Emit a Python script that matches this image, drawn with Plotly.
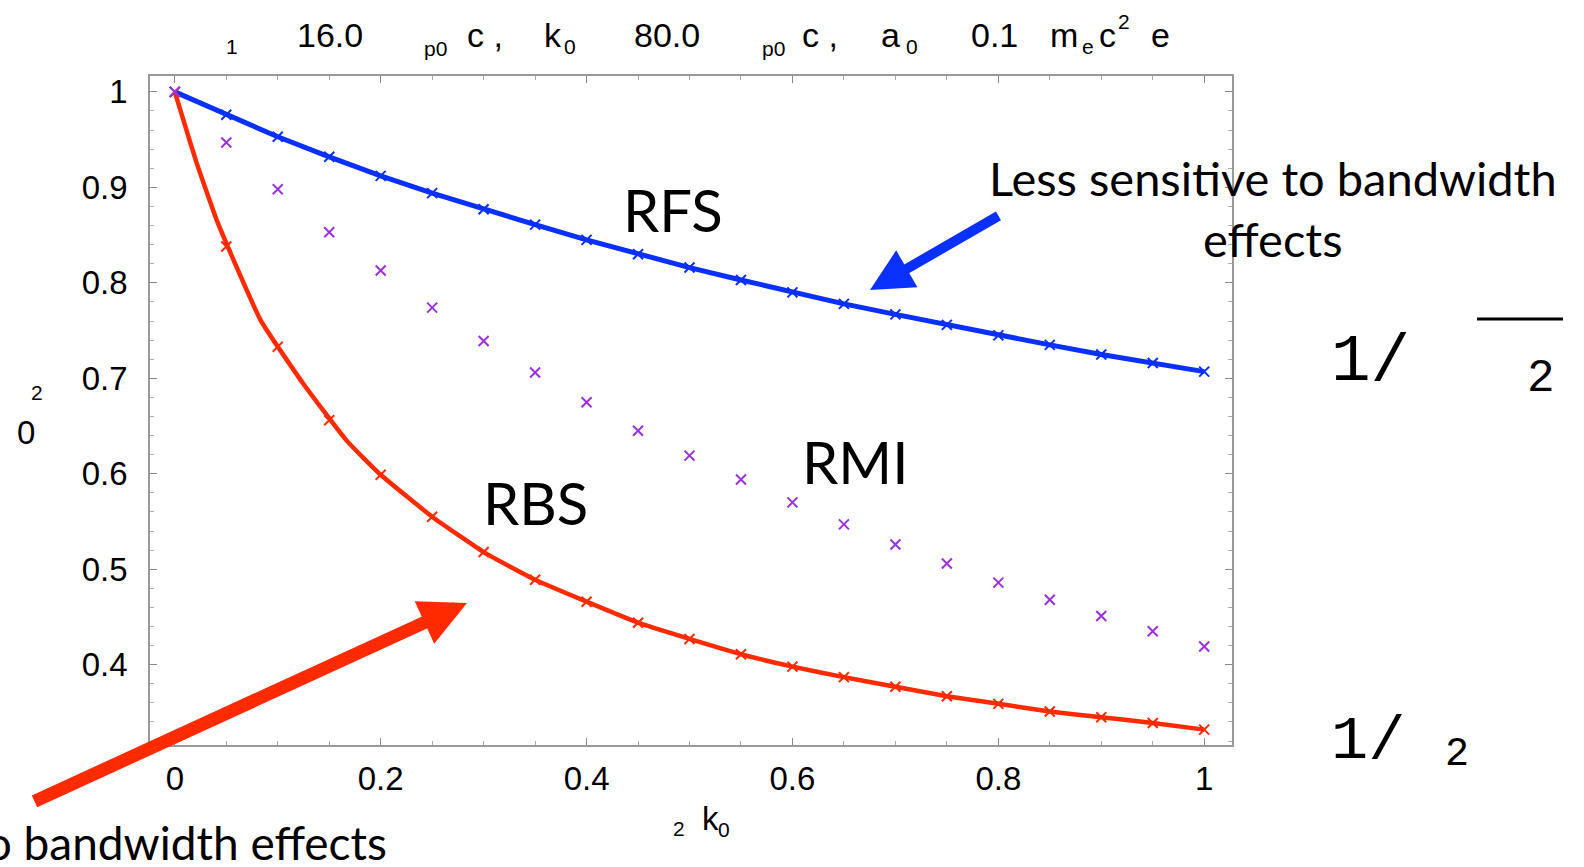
import plotly.graph_objects as go

# ---------------- data ----------------
x_pts = [0.0, 0.05, 0.10, 0.15, 0.20, 0.25, 0.30, 0.35, 0.40, 0.45, 0.50,
         0.55, 0.60, 0.65, 0.70, 0.75, 0.80, 0.85, 0.90, 0.95, 1.0]

rfs_vals = [1.000, 0.976, 0.953, 0.932, 0.912, 0.894, 0.877, 0.861, 0.845, 0.830, 0.816,
            0.803, 0.790, 0.778, 0.767, 0.756, 0.745, 0.735, 0.725, 0.716, 0.707]

rmi_vals = [1.000, 0.947, 0.898, 0.853, 0.813, 0.774, 0.739, 0.706, 0.675, 0.645, 0.619,
            0.594, 0.570, 0.547, 0.526, 0.506, 0.486, 0.468, 0.451, 0.435, 0.419]

rbs_vals = [1.000, 0.838, 0.733, 0.656, 0.599, 0.555, 0.518, 0.489, 0.466, 0.444, 0.427,
            0.411, 0.398, 0.387, 0.377, 0.367, 0.359, 0.351, 0.345, 0.339, 0.332]

rbs_line_x = [0.0, 0.0208, 0.0417, 0.0833, 0.125, 0.1667, 0.20, 0.25, 0.30, 0.35, 0.40,
              0.45, 0.50, 0.55, 0.60, 0.65, 0.70, 0.75, 0.80, 0.85, 0.90, 0.95, 1.0]
rbs_line_y = [1.000, 0.927, 0.863, 0.761, 0.694, 0.635, 0.599, 0.555, 0.518, 0.489, 0.466,
              0.444, 0.427, 0.411, 0.398, 0.387, 0.377, 0.367, 0.359, 0.351, 0.345, 0.339, 0.332]

x_ticks = [0, 0.2, 0.4, 0.6, 0.8, 1]
x_tick_labels = ["0", "0.2", "0.4", "0.6", "0.8", "1"]
y_ticks = [0.4, 0.5, 0.6, 0.7, 0.8, 0.9, 1.0]
y_tick_labels = ["0.4", "0.5", "0.6", "0.7", "0.8", "0.9", "1"]

BLUE = "#0A30FF"
RED = "#FF2A00"
PURPLE = "#9933DD"

# ---------------- layout geometry ----------------
W, H = 1584, 867
L, R, T, B = 150, 1232, 76, 745


def px(x):
    return (x - L) / (R - L)


def py(y):
    return (B - y) / (B - T)


fig = go.Figure()

fig.add_trace(go.Scatter(x=x_pts, y=rfs_vals, mode="lines+markers",
                         line=dict(color=BLUE, width=5),
                         marker=dict(symbol="x-thin", size=10, line=dict(color=BLUE, width=2)),
                         showlegend=False))
fig.add_trace(go.Scatter(x=rbs_line_x, y=rbs_line_y, mode="lines",
                         line=dict(color=RED, width=4.5, shape="spline", smoothing=0.4),
                         showlegend=False))
fig.add_trace(go.Scatter(x=x_pts, y=rbs_vals, mode="markers",
                         marker=dict(symbol="x-thin", size=10, line=dict(color=RED, width=2)),
                         showlegend=False))
fig.add_trace(go.Scatter(x=x_pts, y=rmi_vals, mode="markers",
                         marker=dict(symbol="x-thin", size=10, line=dict(color=PURPLE, width=2)),
                         showlegend=False))

ann = []


def txt(x, y, s, size, font="Liberation Sans", color="black", xanchor="center", yanchor="middle"):
    ann.append(dict(x=px(x), y=py(y), xref="paper", yref="paper", text=s, showarrow=False,
                    xanchor=xanchor, yanchor=yanchor,
                    font=dict(family=font, size=size, color=color)))


# title pieces
BIG, SUB = 34, 21
txt(232, 46, "1", SUB)
txt(330, 35, "16.0", BIG)
txt(435, 48, "p0", SUB)
txt(485, 35, "c ,", BIG)
txt(553, 35, "k", BIG)
txt(570, 47, "0", SUB)
txt(667, 35, "80.0", BIG)
txt(773, 48, "p0", SUB)
txt(820, 35, "c ,", BIG)
txt(890, 35, "a", BIG)
txt(912, 47, "0", SUB)
txt(994, 35, "0.1", BIG)
txt(1064, 35, "m", BIG)
txt(1088, 47, "e", SUB)
txt(1107, 35, "c", BIG)
txt(1124, 22, "2", SUB)
txt(1160, 35, "e", BIG)

# axis labels
txt(26, 432, "0", 33)
txt(37, 392, "2", SUB)
txt(679, 828, "2", SUB)
txt(710, 818, "k", 33)
txt(724, 829, "0", SUB)

# curve labels
GF = "Lato"
txt(673, 209, "RFS", 58, GF)
txt(855, 461, "RMI", 58, GF)
txt(535, 502, "RBS", 58, GF)
txt(1273, 208, "Less sensitive to bandwidth<br>effects", 47, GF)
txt(389, 843, "More sensitive to bandwidth effects", 46, GF, xanchor="right")

# right-hand expressions
MONO = "Liberation Mono"
txt(1370, 362, "1/", 66, MONO)
txt(1541, 379, "2", 46, MONO)
txt(1368, 741, "1/", 62, MONO)
txt(1457, 755, "2", 40, MONO)

# arrows
ann.append(dict(x=px(870), y=py(290), xref="paper", yref="paper", text="", showarrow=True,
                ax=130, ay=-75, axref="pixel", ayref="pixel",
                arrowhead=2, arrowsize=0.85, arrowwidth=10, arrowcolor=BLUE, standoff=0))
ann.append(dict(x=px(467), y=py(603), xref="paper", yref="paper", text="", showarrow=True,
                ax=-434, ay=199, axref="pixel", ayref="pixel",
                arrowhead=2, arrowsize=0.72, arrowwidth=13, arrowcolor=RED, standoff=0))

axis_common = dict(showgrid=False, zeroline=False, showline=True, linecolor="#999999",
                   linewidth=1.5, mirror="ticks", ticks="inside", ticklen=7, tickwidth=1,
                   tickcolor="#888888",
                   tickfont=dict(family="Liberation Sans", size=33, color="black"))

fig.update_layout(
    width=W, height=H,
    margin=dict(l=L, r=W - R, t=T, b=H - B, pad=0),
    paper_bgcolor="white", plot_bgcolor="white",
    xaxis=dict(range=[-0.0241, 1.0270], tickvals=x_ticks, ticktext=x_tick_labels,
               minor=dict(dtick=0.05, ticks="inside", ticklen=4, tickcolor="#aaaaaa"),
               ticklabelstandoff=4, **axis_common),
    yaxis=dict(range=[0.3159, 1.01665], tickvals=y_ticks, ticktext=y_tick_labels,
               minor=dict(dtick=0.02, ticks="inside", ticklen=4, tickcolor="#aaaaaa"),
               ticklabelstandoff=14, **axis_common),
    annotations=ann,
    shapes=[dict(type="line", xref="paper", yref="paper", x0=px(1477), x1=px(1563),
                 y0=py(319), y1=py(319), line=dict(color="black", width=3))],
)

fig.write_html("out.html")
